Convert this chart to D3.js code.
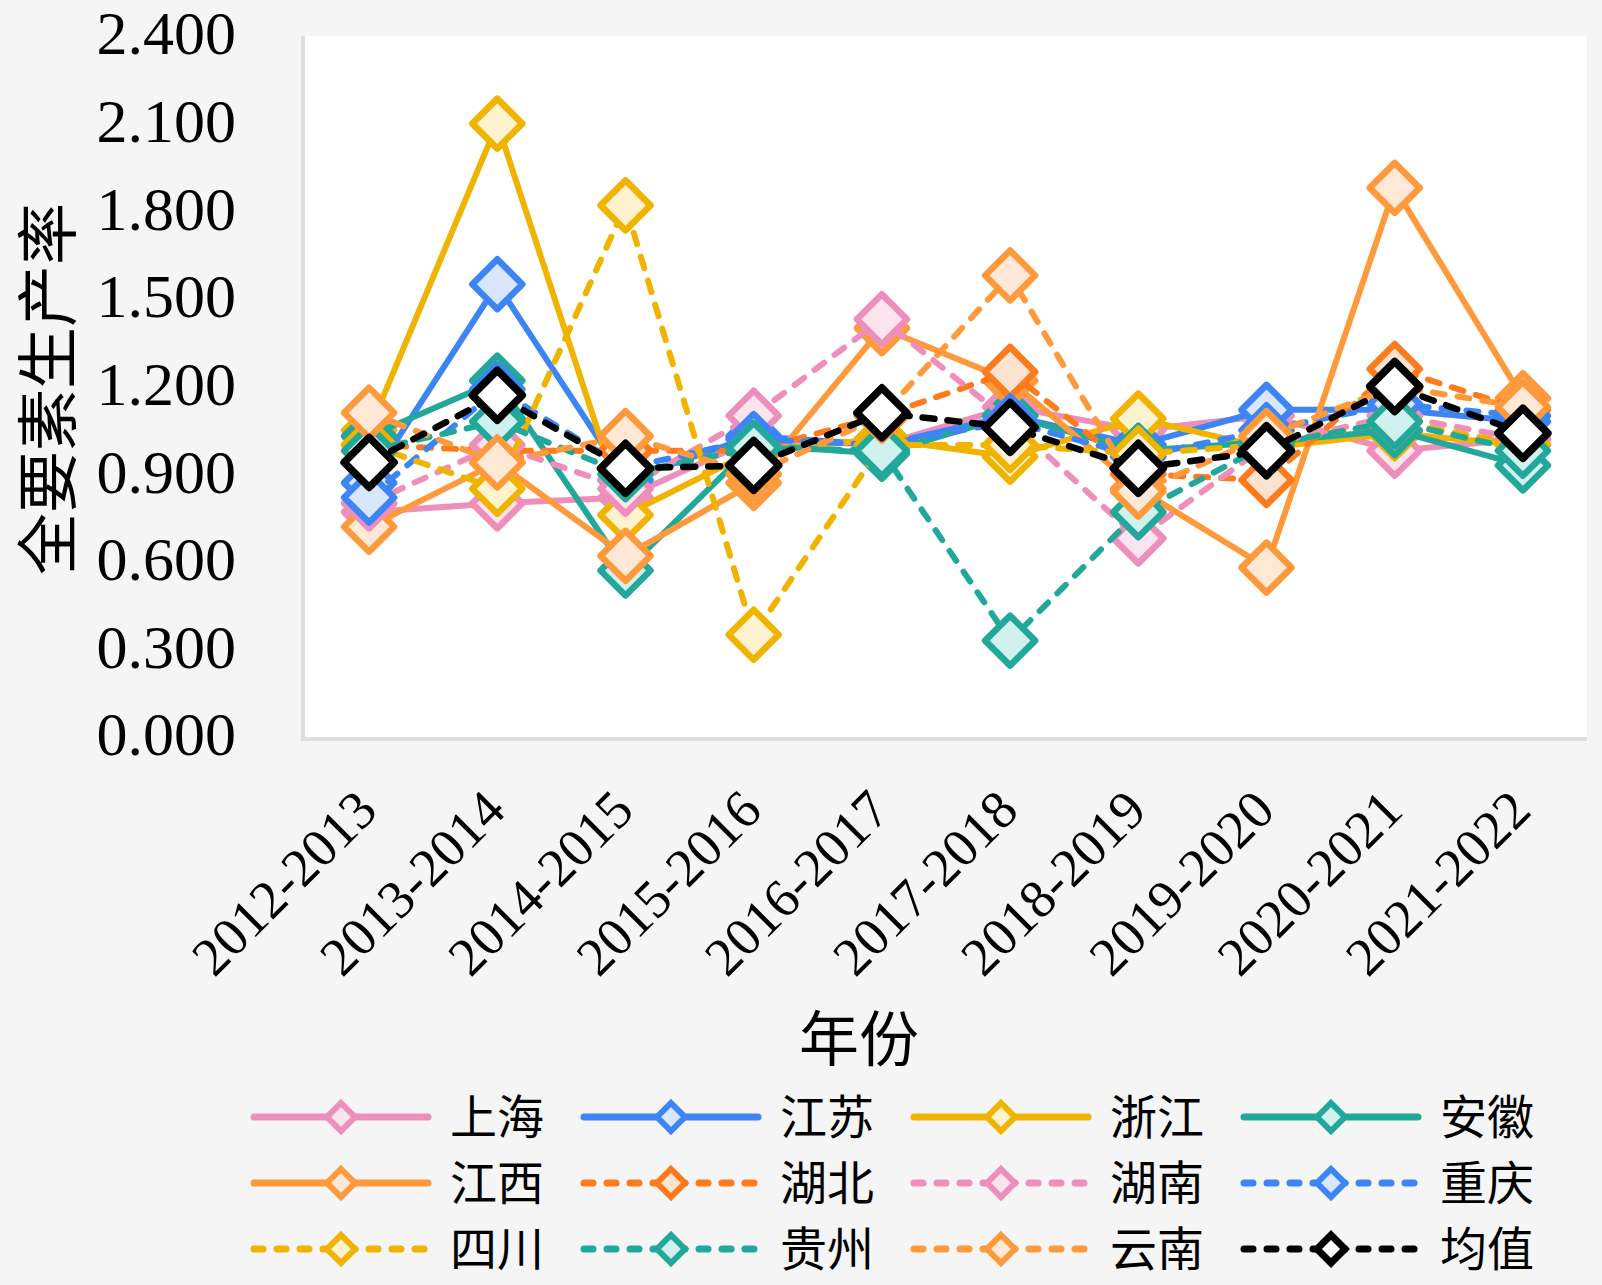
<!DOCTYPE html>
<html lang="zh">
<head>
<meta charset="UTF-8">
<title>全要素生产率</title>
<script src="https://cdnjs.cloudflare.com/ajax/libs/d3/7.8.5/d3.min.js"></script>
<style>
  body { margin: 0; background: #f5f5f5; }
  svg { display: block; }
  text { font-family: "Liberation Serif", "Times New Roman", "Noto Sans CJK SC", serif; fill: #000; }
</style>
</head>
<body>
<svg id="chart" width="1602" height="1285"></svg>
<script>
  // x categories and y ticks
  const years = ["2012-2013", "2013-2014", "2014-2015", "2015-2016", "2016-2017",
                 "2017-2018", "2018-2019", "2019-2020", "2020-2021", "2021-2022"];
  const yTicks = [0, 0.3, 0.6, 0.9, 1.2, 1.5, 1.8, 2.1, 2.4];

  // values
  const shanghai  = [0.77, 0.80, 0.82, 1.02, 1.00, 1.13, 1.05, 1.10, 0.98, 1.02];
  const jiangsu   = [0.87, 1.55, 0.88, 1.03, 1.00, 1.10, 1.00, 1.12, 1.12, 1.08];
  const zhejiang  = [1.05, 2.10, 0.76, 0.98, 1.02, 0.96, 1.09, 0.99, 1.04, 1.00];
  const anhui     = [1.03, 1.22, 0.57, 1.00, 0.97, 1.10, 0.98, 1.01, 1.05, 0.93];
  const jiangxi   = [0.72, 0.94, 0.62, 0.87, 1.40, 1.22, 0.85, 0.58, 1.88, 1.16];
  const hubei     = [1.00, 0.98, 0.98, 0.98, 1.10, 1.25, 0.90, 0.88, 1.26, 1.12];
  const hunan     = [0.80, 1.00, 0.85, 1.10, 1.43, 1.08, 0.68, 1.00, 1.10, 1.02];
  const chongqing = [0.82, 1.19, 0.92, 1.02, 1.00, 1.08, 0.96, 1.05, 1.14, 1.10];
  const sichuan   = [1.00, 0.85, 1.82, 0.35, 1.00, 1.00, 0.97, 1.00, 1.08, 1.00];
  const guizhou   = [0.98, 1.08, 0.90, 0.99, 0.98, 0.33, 0.77, 1.00, 1.08, 0.98];
  const yunnan    = [1.11, 0.94, 1.03, 0.90, 1.10, 1.58, 0.84, 1.03, 1.20, 1.13];
  const average   = [0.94, 1.17, 0.92, 0.93, 1.11, 1.06, 0.92, 0.98, 1.20, 1.04];

  const series = [
    { name: "上海", values: shanghai,  color: "#ee8fbb", fill: "#fce4ef", dash: false },
    { name: "江苏", values: jiangsu,   color: "#3d85f5", fill: "#d9e7fd", dash: false },
    { name: "浙江", values: zhejiang,  color: "#f0b400", fill: "#fff2cf", dash: false },
    { name: "安徽", values: anhui,     color: "#22a89a", fill: "#d0f2ee", dash: false },
    { name: "江西", values: jiangxi,   color: "#ff9a3c", fill: "#ffe8d6", dash: false },
    { name: "湖北", values: hubei,     color: "#fd7b1c", fill: "#ffe3d1", dash: true },
    { name: "湖南", values: hunan,     color: "#ee8fbb", fill: "#fce4ef", dash: true },
    { name: "重庆", values: chongqing, color: "#3d85f5", fill: "#d9e7fd", dash: true },
    { name: "四川", values: sichuan,   color: "#f0b400", fill: "#fff2cf", dash: true },
    { name: "贵州", values: guizhou,   color: "#22a89a", fill: "#d0f2ee", dash: true },
    { name: "云南", values: yunnan,    color: "#ff9a3c", fill: "#ffe8d6", dash: true },
    { name: "均值", values: average,   color: "#000000", fill: "#ffffff", dash: true, mean: true }
  ];

  const svg = d3.select("#chart");
  const plot = { left: 305, top: 36, right: 1587, bottom: 737 };

  const x = d3.scalePoint().domain(years).range([plot.left, plot.right]).padding(0.5);
  const y = d3.scaleLinear().domain([0, 2.4]).range([plot.bottom, plot.top]);

  svg.append("rect").attr("width", 1602).attr("height", 1285).attr("fill", "#f5f5f5");

  // plot area with a thin shadow on the left and bottom
  svg.append("rect")
    .attr("x", plot.left - 4).attr("y", plot.top)
    .attr("width", plot.right - plot.left + 4).attr("height", plot.bottom - plot.top + 4)
    .attr("fill", "#dedede");
  svg.append("rect")
    .attr("x", plot.left).attr("y", plot.top)
    .attr("width", plot.right - plot.left).attr("height", plot.bottom - plot.top)
    .attr("fill", "#ffffff");

  // y axis
  const yAxis = svg.append("g")
    .attr("transform", `translate(${plot.left},0)`)
    .call(d3.axisLeft(y).tickValues(yTicks).tickFormat(d3.format(".3f")).tickSize(0).tickPadding(69));
  yAxis.select(".domain").remove();
  yAxis.selectAll("text")
    .style("font-family", "'Liberation Serif', serif")
    .style("font-size", "62px")
    .attr("dy", "0.29em");

  // x axis
  const xAxis = svg.append("g")
    .attr("transform", `translate(0,${plot.bottom})`)
    .call(d3.axisBottom(x).tickSize(0));
  xAxis.select(".domain").remove();
  xAxis.selectAll("text")
    .style("font-family", "'Liberation Serif', serif")
    .style("font-size", "54px")
    .attr("x", 0).attr("y", 0).attr("dy", 0)
    .attr("text-anchor", "end")
    .attr("transform", "translate(10,76) rotate(-45)");

  // axis titles
  svg.append("text")
    .attr("transform", "translate(71,389) rotate(-90)")
    .attr("text-anchor", "middle")
    .style("font-size", "62px")
    .text("全要素生产率");
  svg.append("text")
    .attr("x", 859).attr("y", 1061)
    .attr("text-anchor", "middle")
    .style("font-size", "60px")
    .text("年份");

  const diamond = r => `M0,${-r}L${r},0L0,${r}L${-r},0Z`;
  const line = d3.line().x((d, i) => x(years[i])).y(d => y(d));

  // series, drawn in order so later ones sit on top
  series.forEach(s => {
    const g = svg.append("g");
    g.append("path")
      .attr("d", line(s.values))
      .attr("fill", "none")
      .attr("stroke", s.color)
      .attr("stroke-width", s.mean ? 6.5 : 6)
      .attr("stroke-linecap", s.dash ? "round" : "butt")
      .attr("stroke-dasharray", s.dash ? "12,13" : null);
    g.selectAll("path.pt")
      .data(s.values)
      .enter().append("path")
      .attr("class", "pt")
      .attr("transform", (d, i) => `translate(${x(years[i])},${y(d)})`)
      .attr("d", diamond(25))
      .attr("fill", s.fill)
      .attr("stroke", s.color)
      .attr("stroke-width", s.mean ? 7.5 : 6.5)
      .attr("stroke-linejoin", "round");
  });

  // legend, 4 columns x 3 rows
  const legend = svg.append("g");
  series.forEach((s, i) => {
    const col = i % 4, row = Math.floor(i / 4);
    const lx = 254 + col * 330, ly = 1117 + row * 66;
    const item = legend.append("g").attr("transform", `translate(${lx},${ly})`);
    item.append("line")
      .attr("x1", 0).attr("x2", 174)
      .attr("stroke", s.color)
      .attr("stroke-width", 7)
      .attr("stroke-linecap", "round")
      .attr("stroke-dasharray", s.dash ? "9,14" : null);
    item.append("path")
      .attr("transform", "translate(87,0)")
      .attr("d", diamond(14))
      .attr("fill", s.fill)
      .attr("stroke", s.color)
      .attr("stroke-width", s.mean ? 7 : 6);
    item.append("text")
      .attr("x", 196).attr("y", 0)
      .attr("dy", "0.36em")
      .style("font-size", "47px")
      .text(s.name);
  });
</script>
</body>
</html>
